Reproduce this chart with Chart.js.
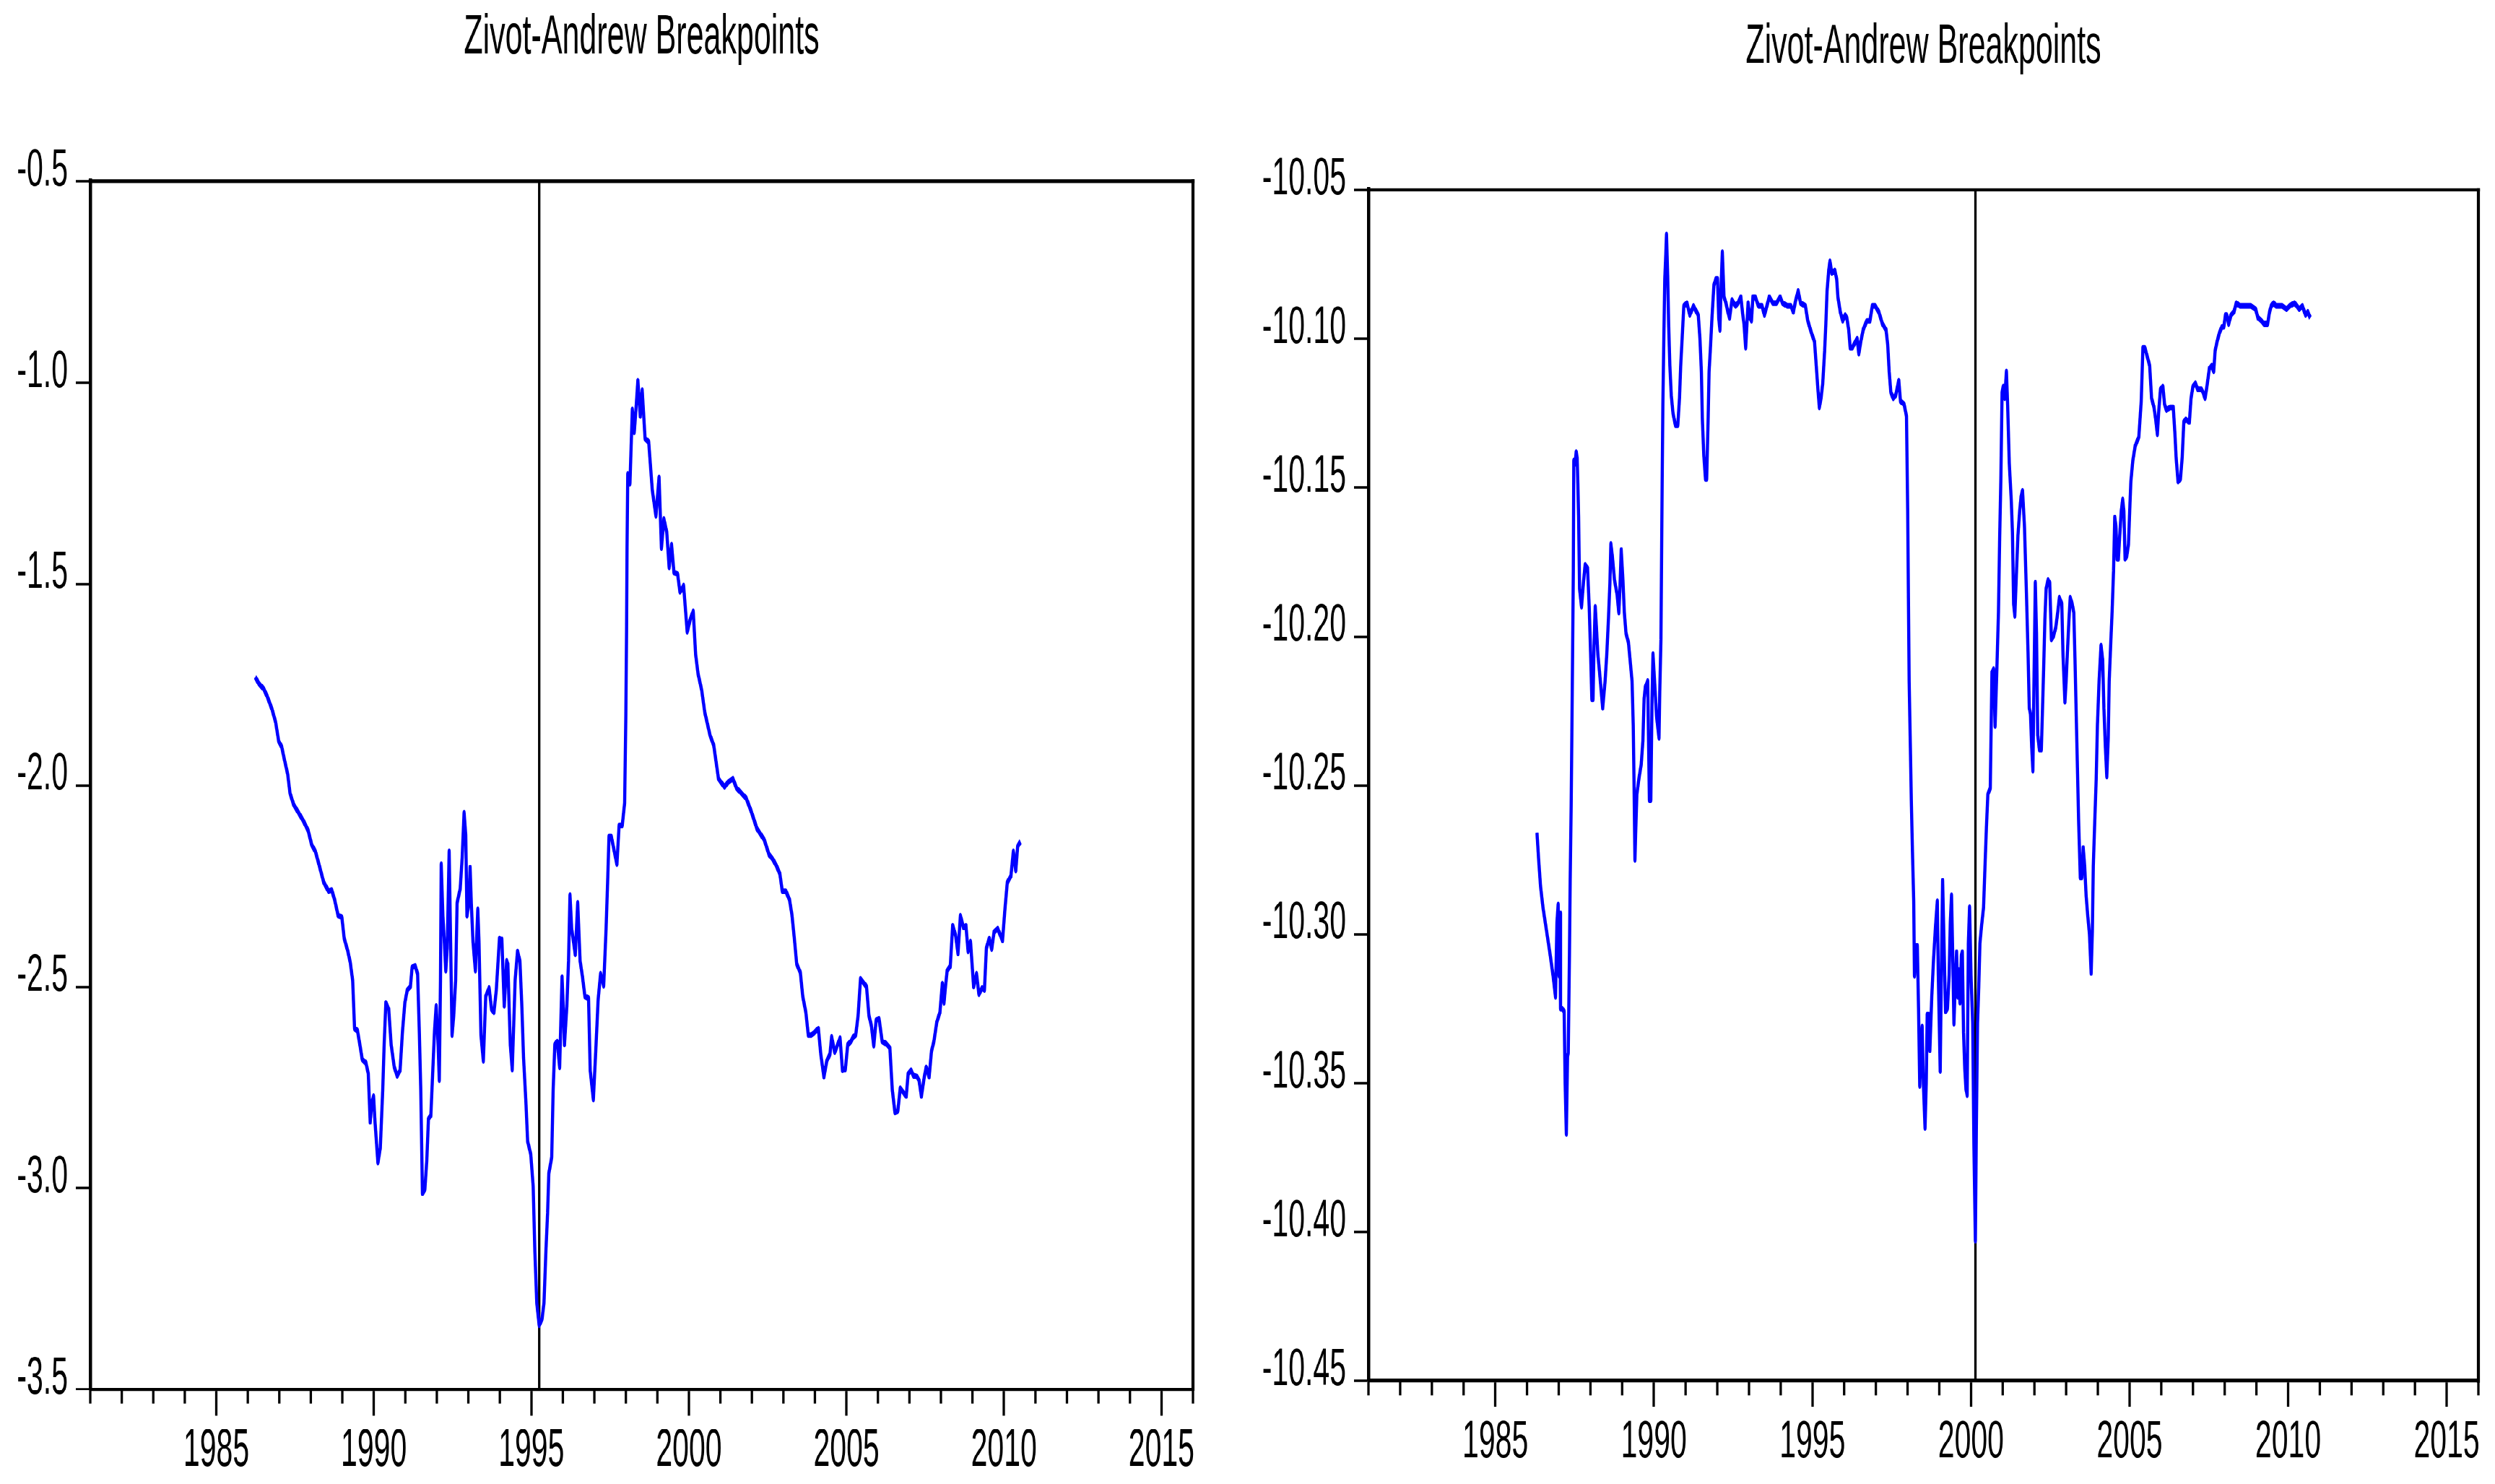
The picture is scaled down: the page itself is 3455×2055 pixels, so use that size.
<!DOCTYPE html>
<html>
<head>
<meta charset="utf-8">
<title>Zivot-Andrew Breakpoints</title>
<script src="https://cdn.jsdelivr.net/npm/chart.js@4.4.1/dist/chart.umd.min.js"></script>
<style>
  html, body { margin: 0; padding: 0; background: #fff; overflow: hidden; }
  #stage { position: absolute; left: 0; top: 0; width: 3455px; height: 1142px; transform-origin: 0 0; }
  .panel { position: absolute; top: 0; height: 1142px; }
  #panelL { left: 0; width: 1728px; }
  #panelR { left: 1728px; width: 1727px; }
</style>
</head>
<body>
<div id="stage">
  <div class="panel" id="panelL"><canvas id="chartL"></canvas></div>
  <div class="panel" id="panelR"><canvas id="chartR"></canvas></div>
</div>
<script>
// the graphs are drawn squeezed and then stretched vertically,
// that gives the tall narrow lettering of the original
const PAGE_H = 2055;
const STAGE_H = 1142;
const K = PAGE_H / STAGE_H;
const FONT = "'Liberation Sans', Arial, sans-serif";

const TITLE = "Zivot-Andrew Breakpoints";
const X_MIN = 1981;
const X_MAX = 2016;
const X_TICKS = [1985, 1990, 1995, 2000, 2005, 2010, 2015];
const L_Y_TICKS = [-3.5, -3.0, -2.5, -2.0, -1.5, -1.0, -0.5];
const R_Y_TICKS = [-10.45, -10.40, -10.35, -10.30, -10.25, -10.20, -10.15, -10.10, -10.05];
const BREAKS = [1995.25, 2000.14];

const L_YEARS = [
  1986.234, 1986.348, 1986.501, 1986.616, 1986.768, 1986.883, 1986.982, 1987.074, 1987.150, 1987.265,
  1987.341, 1987.456, 1987.609, 1987.762, 1987.914, 1988.029, 1988.144, 1988.258, 1988.411, 1988.564,
  1988.663, 1988.755, 1988.869, 1988.984, 1989.060, 1989.175, 1989.251, 1989.328, 1989.389, 1989.480,
  1989.557, 1989.633, 1989.748, 1989.824, 1989.885, 1989.939, 1989.992, 1990.038, 1990.130, 1990.206,
  1990.283, 1990.328, 1990.382, 1990.473, 1990.550, 1990.649, 1990.741, 1990.833, 1990.909, 1990.985,
  1991.062, 1991.161, 1991.215, 1991.314, 1991.390, 1991.444, 1991.490, 1991.543, 1991.619, 1991.681,
  1991.734, 1991.810, 1991.872, 1991.925, 1991.979, 1992.040, 1992.078, 1992.116, 1992.139, 1992.192,
  1992.238, 1992.284, 1992.330, 1992.391, 1992.437, 1992.483, 1992.536, 1992.597, 1992.643, 1992.742,
  1992.804, 1992.865, 1992.918, 1992.956, 1993.018, 1993.056, 1993.094, 1993.147, 1993.224, 1993.300,
  1993.338, 1993.400, 1993.476, 1993.552, 1993.659, 1993.736, 1993.812, 1993.888, 1993.988, 1994.064,
  1994.140,
  1994.217, 1994.255, 1994.294, 1994.332, 1994.393, 1994.446, 1994.485, 1994.561, 1994.637, 1994.698,
  1994.752, 1994.828, 1994.882, 1994.981, 1995.058, 1995.111, 1995.172, 1995.249, 1995.340, 1995.401,
  1995.462, 1995.516, 1995.554, 1995.646, 1995.692, 1995.745, 1995.821, 1995.898, 1995.974, 1996.012,
  1996.051, 1996.127, 1996.180, 1996.226, 1996.280, 1996.394, 1996.471, 1996.547, 1996.624, 1996.700,
  1996.815, 1996.868, 1996.968, 1997.044, 1997.120, 1997.197, 1997.296, 1997.372, 1997.426, 1997.464,
  1997.540, 1997.632, 1997.716, 1997.785, 1997.884, 1997.961, 1997.999, 1998.022, 1998.037, 1998.060,
  1998.129, 1998.205, 1998.266, 1998.320, 1998.381, 1998.457, 1998.518, 1998.610, 1998.724, 1998.839,
  1998.954, 1999.053, 1999.129, 1999.206, 1999.297, 1999.374, 1999.450, 1999.527, 1999.641, 1999.718,
  1999.832, 1999.947, 2000.046, 2000.138, 2000.214, 2000.291, 2000.405, 2000.505, 2000.673, 2000.787,
  2000.940, 2001.131, 2001.246, 2001.398, 2001.513, 2001.818, 2001.971, 2002.162, 2002.391, 2002.544,
  2002.659, 2002.774, 2002.888, 2002.965, 2003.079, 2003.194, 2003.270, 2003.347, 2003.423, 2003.538,
  2003.614, 2003.713, 2003.790, 2003.881, 2003.973, 2004.110, 2004.187, 2004.286, 2004.378, 2004.477,
  2004.531, 2004.630, 2004.722, 2004.798, 2004.875, 2004.966, 2005.042, 2005.142, 2005.218, 2005.295,
  2005.371, 2005.447, 2005.562, 2005.638, 2005.715, 2005.791, 2005.868, 2005.944, 2006.036, 2006.135,
  2006.250, 2006.379, 2006.456, 2006.540, 2006.631, 2006.708, 2006.822, 2006.899, 2006.960, 2007.052,
  2007.128, 2007.243, 2007.304, 2007.380, 2007.472, 2007.533, 2007.625, 2007.701, 2007.777, 2007.869,
  2007.968, 2008.045, 2008.098, 2008.144, 2008.198, 2008.297, 2008.373, 2008.465, 2008.541, 2008.618,
  2008.717, 2008.793, 2008.862, 2008.939, 2009.038, 2009.130, 2009.206, 2009.305, 2009.381, 2009.443,
  2009.534, 2009.611, 2009.687, 2009.802, 2009.955, 2010.031, 2010.107, 2010.222, 2010.299, 2010.375,
  2010.436, 2010.528
];
const L_VALUES = [
  -1.731, -1.747, -1.760, -1.779, -1.811, -1.843, -1.891, -1.904, -1.932, -1.972,
  -2.020, -2.048, -2.068, -2.088, -2.112, -2.148, -2.164, -2.196, -2.241, -2.263,
  -2.260, -2.284, -2.324, -2.327, -2.380, -2.412, -2.439, -2.484, -2.604, -2.609,
  -2.644, -2.681, -2.689, -2.716, -2.836, -2.788, -2.772, -2.836, -2.937, -2.900,
  -2.756, -2.644, -2.540, -2.556, -2.644, -2.700, -2.721, -2.708, -2.612, -2.540,
  -2.508, -2.500, -2.452, -2.449, -2.468, -2.612, -2.756, -3.013, -3.004, -2.932,
  -2.828, -2.820, -2.708, -2.612, -2.548, -2.644, -2.732, -2.484, -2.196, -2.324,
  -2.388, -2.460, -2.404, -2.164, -2.388, -2.620, -2.572, -2.484, -2.292, -2.257,
  -2.180, -2.068, -2.124, -2.324, -2.292, -2.204, -2.292, -2.388, -2.460, -2.308,
  -2.388, -2.620, -2.684, -2.524, -2.503, -2.556, -2.564, -2.508, -2.380, -2.383,
  -2.548,
  -2.436, -2.444, -2.548, -2.644, -2.705, -2.580, -2.484, -2.412, -2.436, -2.548,
  -2.676, -2.788, -2.884, -2.916, -2.996, -3.157, -3.285, -3.341, -3.325, -3.285,
  -3.157, -3.061, -2.964, -2.924, -2.756, -2.644, -2.636, -2.700, -2.476, -2.548,
  -2.644, -2.548, -2.436, -2.273, -2.356, -2.420, -2.292, -2.436, -2.476, -2.524,
  -2.529, -2.708, -2.780, -2.660, -2.532, -2.468, -2.497, -2.356, -2.228, -2.128,
  -2.128, -2.164, -2.196, -2.100, -2.100, -2.044, -1.827, -1.619, -1.411, -1.227,
  -1.251, -1.067, -1.123, -1.067, -0.995, -1.083, -1.019, -1.139, -1.147, -1.267,
  -1.331, -1.235, -1.411, -1.339, -1.371, -1.459, -1.403, -1.472, -1.475, -1.520,
  -1.504, -1.619, -1.587, -1.568, -1.675, -1.723, -1.763, -1.819, -1.876, -1.900,
  -1.984, -2.004, -1.992, -1.984, -2.007, -2.032, -2.063, -2.108, -2.135, -2.172,
  -2.183, -2.199, -2.220, -2.263, -2.263, -2.284, -2.321, -2.380, -2.444, -2.465,
  -2.524, -2.564, -2.620, -2.620, -2.615, -2.604, -2.668, -2.724, -2.684, -2.668,
  -2.625, -2.663, -2.644, -2.628, -2.708, -2.705, -2.644, -2.636, -2.625, -2.620,
  -2.572, -2.481, -2.492, -2.500, -2.572, -2.596, -2.647, -2.583, -2.580, -2.636,
  -2.641, -2.652, -2.756, -2.812, -2.809, -2.753, -2.764, -2.772, -2.716, -2.708,
  -2.721, -2.724, -2.732, -2.772, -2.724, -2.700, -2.724, -2.660, -2.636, -2.588,
  -2.564, -2.492, -2.540, -2.500, -2.460, -2.449, -2.348, -2.372, -2.417, -2.324,
  -2.353, -2.348, -2.412, -2.388, -2.500, -2.468, -2.519, -2.503, -2.508, -2.404,
  -2.380, -2.407, -2.364, -2.356, -2.385, -2.308, -2.241, -2.225, -2.164, -2.212,
  -2.151, -2.140
];

const R_YEARS = [
  1986.314, 1986.367, 1986.427, 1986.503, 1986.617, 1986.731, 1986.822, 1986.898, 1986.944, 1986.982,
  1987.012, 1987.035, 1987.057, 1987.111, 1987.171, 1987.202, 1987.240, 1987.278, 1987.300, 1987.338,
  1987.361, 1987.392, 1987.414, 1987.437, 1987.460, 1987.475, 1987.513, 1987.551, 1987.581, 1987.604,
  1987.627, 1987.657, 1987.718, 1987.779, 1987.832, 1987.908, 1987.961, 1988.006, 1988.044, 1988.082,
  1988.113, 1988.151, 1988.189, 1988.234, 1988.287, 1988.386, 1988.462, 1988.515, 1988.568, 1988.614,
  1988.644, 1988.690, 1988.758, 1988.841, 1988.895, 1988.933, 1988.970, 1989.024, 1989.069, 1989.122,
  1989.198, 1989.251, 1989.312, 1989.350, 1989.373, 1989.403, 1989.426, 1989.464, 1989.525, 1989.601,
  1989.654, 1989.692, 1989.730, 1989.806, 1989.859, 1989.904, 1989.942, 1989.972, 1990.033, 1990.086,
  1990.162, 1990.185, 1990.223, 1990.261, 1990.284, 1990.314, 1990.344, 1990.375, 1990.398, 1990.436,
  1990.466, 1990.504, 1990.549, 1990.603, 1990.679, 1990.755, 1990.808, 1990.846, 1990.891, 1990.944,
  1991.043, 1991.134, 1991.248, 1991.347, 1991.400, 1991.453, 1991.498, 1991.529, 1991.574, 1991.627,
  1991.665, 1991.711, 1991.741, 1991.779, 1991.832, 1991.893, 1991.954, 1992.007, 1992.045, 1992.083,
  1992.121, 1992.159, 1992.212, 1992.273, 1992.334, 1992.387, 1992.463, 1992.576, 1992.652, 1992.743,
  1992.804, 1992.842, 1992.895, 1992.971, 1993.032, 1993.077, 1993.123, 1993.199, 1993.298, 1993.411,
  1993.487, 1993.563, 1993.639, 1993.753,
  1993.867, 1993.981, 1994.057, 1994.209, 1994.322, 1994.398, 1994.474, 1994.550, 1994.626, 1994.778,
  1994.854, 1994.968, 1995.066, 1995.120, 1995.173, 1995.218, 1995.271, 1995.325, 1995.385, 1995.423,
  1995.461, 1995.514, 1995.552, 1995.613, 1995.704, 1995.765, 1995.803, 1995.879, 1995.955, 1996.031,
  1996.084, 1996.144, 1996.190, 1996.258, 1996.357, 1996.410, 1996.463, 1996.524, 1996.600, 1996.714,
  1996.812, 1996.888, 1996.979, 1997.093, 1997.207, 1997.321, 1997.374, 1997.420, 1997.473, 1997.549,
  1997.625, 1997.723, 1997.777, 1997.890, 1997.966, 1998.004, 1998.027, 1998.050, 1998.088, 1998.118,
  1998.156, 1998.194, 1998.217, 1998.270, 1998.308, 1998.346, 1998.384, 1998.422, 1998.460, 1998.498,
  1998.551, 1998.589, 1998.619, 1998.665, 1998.703, 1998.763, 1998.816, 1998.877, 1998.938, 1998.968,
  1999.029, 1999.067, 1999.105, 1999.143, 1999.196, 1999.257, 1999.310, 1999.348, 1999.386, 1999.424,
  1999.462, 1999.500, 1999.545, 1999.583, 1999.621, 1999.652, 1999.697, 1999.727, 1999.765, 1999.803,
  1999.841, 1999.879, 1999.917, 1999.955, 2000.001, 2000.054, 2000.092, 2000.138, 2000.168, 2000.206,
  2000.244, 2000.282, 2000.335, 2000.396, 2000.449, 2000.487, 2000.532, 2000.608, 2000.661, 2000.714,
  2000.760, 2000.813, 2000.866, 2000.904, 2000.942, 2000.980, 2001.018, 2001.064, 2001.117, 2001.155,
  2001.208, 2001.269, 2001.307, 2001.344, 2001.382, 2001.436, 2001.481, 2001.534, 2001.580, 2001.625,
  2001.686, 2001.747, 2001.800, 2001.838,
  2001.876, 2001.914, 2001.952, 2001.990, 2002.028, 2002.066, 2002.104, 2002.157, 2002.218, 2002.256,
  2002.293, 2002.331, 2002.369, 2002.430, 2002.483, 2002.536, 2002.597, 2002.673, 2002.734, 2002.787,
  2002.863, 2002.901, 2002.962, 2003.000, 2003.037, 2003.091, 2003.129, 2003.189, 2003.242, 2003.280,
  2003.318, 2003.356, 2003.394, 2003.447, 2003.493, 2003.538, 2003.584, 2003.630, 2003.675, 2003.736,
  2003.789, 2003.827, 2003.857, 2003.903, 2003.948, 2003.986, 2004.039, 2004.100, 2004.153, 2004.191,
  2004.237, 2004.282, 2004.328, 2004.358, 2004.404, 2004.449, 2004.495, 2004.533, 2004.571, 2004.609,
  2004.647, 2004.685, 2004.738, 2004.783, 2004.821, 2004.859, 2004.912, 2004.966, 2005.011, 2005.041,
  2005.102, 2005.178, 2005.292, 2005.368, 2005.421, 2005.482, 2005.558, 2005.634, 2005.694, 2005.770,
  2005.823, 2005.877, 2005.922, 2005.975, 2006.051, 2006.104, 2006.165, 2006.279, 2006.378, 2006.431,
  2006.469, 2006.529, 2006.605, 2006.659, 2006.711, 2006.772, 2006.886, 2006.939, 2006.999, 2007.076,
  2007.152, 2007.266, 2007.319, 2007.380, 2007.440, 2007.516, 2007.592, 2007.653, 2007.699, 2007.759,
  2007.835, 2007.911, 2007.972, 2008.025, 2008.063, 2008.124, 2008.200, 2008.291, 2008.367, 2008.480,
  2008.594, 2008.708, 2008.822, 2008.974, 2009.050, 2009.164, 2009.239, 2009.353, 2009.414, 2009.467,
  2009.543, 2009.619, 2009.733, 2009.809, 2009.950, 2010.050, 2010.200, 2010.350, 2010.450, 2010.550,
  2010.620, 2010.700
];
const R_VALUES = [
  -10.266, -10.275, -10.284, -10.291, -10.299, -10.307, -10.314, -10.321, -10.296, -10.290,
  -10.314, -10.293, -10.325, -10.325, -10.326, -10.350, -10.367, -10.341, -10.340, -10.307,
  -10.282, -10.257, -10.233, -10.206, -10.178, -10.141, -10.142, -10.138, -10.140, -10.149,
  -10.160, -10.184, -10.190, -10.182, -10.176, -10.177, -10.190, -10.206, -10.221, -10.221,
  -10.203, -10.190, -10.197, -10.206, -10.212, -10.224, -10.215, -10.206, -10.194, -10.182,
  -10.169, -10.173, -10.181, -10.186, -10.192, -10.183, -10.171, -10.181, -10.192, -10.199,
  -10.202, -10.208, -10.215, -10.230, -10.248, -10.275, -10.266, -10.253, -10.248, -10.243,
  -10.235, -10.221, -10.217, -10.215, -10.255, -10.255, -10.221, -10.206, -10.217, -10.227,
  -10.234, -10.219, -10.201, -10.149, -10.122, -10.100, -10.080, -10.072, -10.065, -10.079,
  -10.095, -10.109, -10.119, -10.125, -10.129, -10.129, -10.120, -10.109, -10.100, -10.089,
  -10.088, -10.092, -10.089, -10.091, -10.092, -10.100, -10.111, -10.127, -10.139, -10.147,
  -10.147, -10.127, -10.111, -10.104, -10.093, -10.082, -10.080, -10.080, -10.093, -10.097,
  -10.082, -10.071, -10.086, -10.088, -10.091, -10.093, -10.087, -10.089, -10.088, -10.086,
  -10.092, -10.095, -10.103, -10.088, -10.093, -10.094, -10.086, -10.086, -10.089, -10.089,
  -10.092, -10.089, -10.086, -10.088,
  -10.088, -10.086, -10.088, -10.089, -10.089, -10.091, -10.087, -10.084, -10.088, -10.089,
  -10.094, -10.098, -10.101, -10.109, -10.117, -10.123, -10.120, -10.115, -10.104, -10.095,
  -10.084, -10.077, -10.074, -10.078, -10.077, -10.080, -10.086, -10.091, -10.094, -10.092,
  -10.093, -10.097, -10.103, -10.103, -10.101, -10.100, -10.105, -10.101, -10.097, -10.094,
  -10.094, -10.089, -10.089, -10.091, -10.095, -10.097, -10.102, -10.111, -10.118, -10.120,
  -10.119, -10.114, -10.121, -10.122, -10.126, -10.158, -10.187, -10.215, -10.237, -10.255,
  -10.273, -10.289, -10.314, -10.304, -10.304, -10.325, -10.351, -10.339, -10.331, -10.350,
  -10.365, -10.350, -10.327, -10.327, -10.339, -10.321, -10.309, -10.298, -10.289, -10.313,
  -10.346, -10.312, -10.282, -10.300, -10.326, -10.325, -10.314, -10.296, -10.287, -10.307,
  -10.330, -10.318, -10.306, -10.321, -10.312, -10.323, -10.307, -10.306, -10.333, -10.345,
  -10.352, -10.354, -10.303, -10.291, -10.314, -10.330, -10.371, -10.403, -10.366, -10.330,
  -10.318, -10.303, -10.297, -10.291, -10.275, -10.264, -10.253, -10.251, -10.212, -10.211,
  -10.230, -10.212, -10.192, -10.167, -10.147, -10.118, -10.116, -10.120, -10.111, -10.122,
  -10.142, -10.154, -10.165, -10.189, -10.193, -10.178, -10.166, -10.158, -10.153, -10.151,
  -10.163, -10.185, -10.206, -10.224,
  -10.226, -10.237, -10.245, -10.212, -10.182, -10.199, -10.233, -10.238, -10.238, -10.224,
  -10.210, -10.194, -10.184, -10.181, -10.182, -10.201, -10.200, -10.197, -10.192, -10.187,
  -10.189, -10.206, -10.222, -10.215, -10.206, -10.194, -10.187, -10.189, -10.192, -10.208,
  -10.226, -10.244, -10.262, -10.281, -10.281, -10.271, -10.277, -10.287, -10.293, -10.300,
  -10.313, -10.299, -10.277, -10.262, -10.248, -10.230, -10.215, -10.203, -10.208, -10.224,
  -10.237, -10.247, -10.234, -10.215, -10.203, -10.192, -10.178, -10.160, -10.163, -10.174,
  -10.174, -10.167, -10.158, -10.154, -10.158, -10.174, -10.173, -10.169, -10.156, -10.148,
  -10.141, -10.136, -10.133, -10.121, -10.103, -10.103, -10.106, -10.109, -10.120, -10.123,
  -10.127, -10.132, -10.124, -10.117, -10.116, -10.122, -10.124, -10.123, -10.123, -10.132,
  -10.140, -10.148, -10.147, -10.140, -10.128, -10.127, -10.128, -10.120, -10.116, -10.115,
  -10.117, -10.117, -10.118, -10.120, -10.116, -10.110, -10.109, -10.111, -10.104, -10.101,
  -10.098, -10.096, -10.096, -10.092, -10.092, -10.095, -10.092, -10.091, -10.088, -10.089,
  -10.089, -10.089, -10.089, -10.090, -10.093, -10.094, -10.095, -10.095, -10.091, -10.089,
  -10.088, -10.089, -10.089, -10.089, -10.090, -10.089, -10.088, -10.090, -10.089, -10.092,
  -10.091, -10.093
];

document.getElementById("stage").style.transform = "scaleY(" + K + ")";

function toPoints(xs, ys) {
    return xs.map((x, i) => ({ x: x, y: ys[i] }));
}

// box = plot frame in page pixels, left/right relative to the panel
function makeChart(id, panelW, box, titleMid, years, values, brk, yTicks, decimals) {
    const top = box.top / K;
    const bottom = box.bottom / K;
    const titleSize = 43;
    const titleLine = titleSize * 1.2;
    const titlePadTop = titleMid / K - titleLine / 2;
    const titlePadBottom = top - titlePadTop - titleLine;
    const tickFont = { family: FONT, size: 41 };

    // top and right edge of the frame, and the small yearly ticks
    const frame = {
        id: "frame",
        afterDraw(chart) {
            const a = chart.chartArea;
            const ctx = chart.ctx;
            const xs = chart.scales.x;
            ctx.save();
            ctx.strokeStyle = "#000";
            ctx.lineWidth = 2.6;
            ctx.beginPath();
            ctx.moveTo(a.left - 2.2, a.top);
            ctx.lineTo(a.right + 2.2, a.top);
            ctx.stroke();
            ctx.lineWidth = 4.2;
            ctx.beginPath();
            ctx.moveTo(a.right, a.top - 1.3);
            ctx.lineTo(a.right, a.bottom + 1.3);
            ctx.stroke();
            ctx.lineWidth = 3.3;
            for (let yr = X_MIN; yr <= X_MAX; yr++) {
                if (X_TICKS.includes(yr)) continue;
                const px = xs.getPixelForValue(yr);
                ctx.beginPath();
                ctx.moveTo(px, a.bottom);
                ctx.lineTo(px, a.bottom + 20 / K);
                ctx.stroke();
            }
            ctx.restore();
        }
    };

    return new Chart(document.getElementById(id), {
        type: "line",
        data: {
            datasets: [{
                data: toPoints(years, values),
                borderColor: "#0000ff",
                borderWidth: 4.4,
                pointRadius: 0,
                tension: 0,
                borderJoinStyle: "round"
            }, {
                data: [{ x: brk, y: yTicks[0] }, { x: brk, y: yTicks[yTicks.length - 1] }],
                borderColor: "#000",
                borderWidth: 3.3,
                pointRadius: 0
            }]
        },
        options: {
            responsive: true,
            maintainAspectRatio: false,
            animation: false,
            devicePixelRatio: 2,
            events: [],
            layout: { padding: { left: 0, right: panelW - box.right, top: 0, bottom: 0 } },
            plugins: {
                legend: { display: false },
                tooltip: { enabled: false },
                title: {
                    display: true,
                    fullSize: false,
                    text: TITLE,
                    color: "#000",
                    font: { family: FONT, size: titleSize, weight: "normal", lineHeight: 1.2 },
                    padding: { top: titlePadTop, bottom: titlePadBottom }
                }
            },
            scales: {
                x: {
                    type: "linear",
                    min: X_MIN,
                    max: X_MAX,
                    afterBuildTicks: s => { s.ticks = X_TICKS.map(v => ({ value: v })); },
                    afterFit: s => { s.height = STAGE_H - bottom; s.paddingLeft = 0; s.paddingRight = 0; },
                    ticks: { autoSkip: false, maxRotation: 0, padding: 3, color: "#000", font: tickFont,
                             callback: v => String(v) },
                    grid: { drawOnChartArea: false, drawTicks: true, tickLength: 36 / K, tickWidth: 3.3, tickColor: "#000" },
                    border: { display: true, color: "#000", width: 2.6 }
                },
                y: {
                    type: "linear",
                    min: yTicks[0],
                    max: yTicks[yTicks.length - 1],
                    afterBuildTicks: s => { s.ticks = yTicks.map(v => ({ value: v })); },
                    afterFit: s => { s.width = box.left; s.paddingTop = 0; s.paddingBottom = 0; },
                    ticks: { padding: 11, labelOffset: -8, color: "#000", font: tickFont, autoSkip: false,
                             callback: v => v.toFixed(decimals) },
                    grid: { drawOnChartArea: false, drawTicks: true, tickLength: 20, tickWidth: 3.3 / K, tickColor: "#000" },
                    border: { display: true, color: "#000", width: 4.5 }
                }
            }
        },
        plugins: [frame]
    });
}

makeChart("chartL", 1728, { left: 125, right: 1652, top: 251, bottom: 1924 }, 52.5,
          L_YEARS, L_VALUES, BREAKS[0], L_Y_TICKS, 1);
makeChart("chartR", 1727, { left: 167, right: 1704, top: 263, bottom: 1912 }, 66,
          R_YEARS, R_VALUES, BREAKS[1], R_Y_TICKS, 2);
</script>
</body>
</html>
